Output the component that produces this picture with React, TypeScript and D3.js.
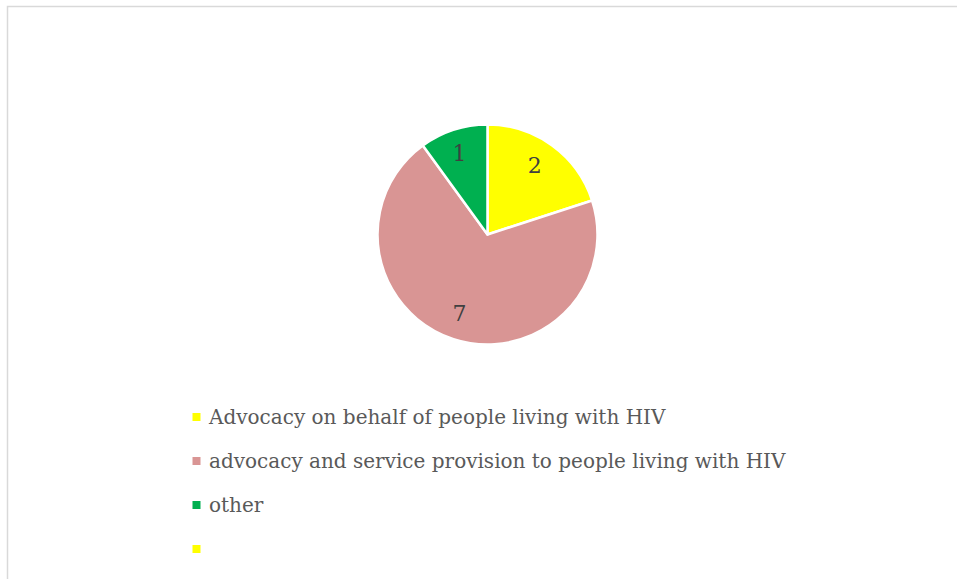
import React from "react";
import * as d3 from "d3";

const categories = [
  "Advocacy on behalf of people living with HIV",
  "advocacy and service provision to people living with HIV",
  "other",
  "",
];
const values = [2, 7, 1, 0];
const colors = ["#FFFF00", "#D99594", "#00B050", "#FFFF00"];

const W = 957;
const H = 579;

export default function App() {
  const cx = 487.5;
  const cy = 234.5;
  const R = 110;
  const pie = d3.pie<number>().sort(null).value((d) => d)(values);
  const arc = d3.arc<d3.PieArcDatum<number>>().innerRadius(0).outerRadius(R);
  const labelArc = d3.arc<d3.PieArcDatum<number>>().innerRadius(84).outerRadius(84);
  const legendY = d3.scalePoint<number>().domain(d3.range(categories.length)).range([417, 549]);

  return (
    <svg
      width={W}
      height={H}
      style={{ position: "absolute", left: 0, top: 0, background: "#fff" }}
    >
      <rect x={7.5} y={6.5} width={W + 10} height={H + 10} fill="#fff" stroke="#d9d9d9" strokeWidth={1.5} />
      <g transform={`translate(${cx},${cy})`}>
        {pie.map((p, i) =>
          p.value > 0 ? (
            <path key={i} d={arc(p) || ""} fill={colors[i]} stroke="#fff" strokeWidth={2.5} strokeLinejoin="round" />
          ) : null
        )}
        {pie.map((p, i) => {
          if (p.value <= 0) return null;
          const [x, y] = labelArc.centroid(p);
          return (
            <text
              key={"l" + i}
              x={x - 2}
              y={y - 1}
              textAnchor="middle"
              dominantBaseline="central"
              fontFamily="'DejaVu Serif', serif"
              fontSize={22}
              fill="#404040"
            >
              {p.value}
            </text>
          );
        })}
      </g>
      {categories.map((c, i) => (
        <g key={"lg" + i} transform={`translate(0,${legendY(i)})`}>
          <rect x={192.5} y={-4} width={8} height={8} fill={colors[i]} />
          <text
            x={209}
            y={0}
            dominantBaseline="central"
            fontFamily="'DejaVu Serif', serif"
            fontSize={20}
            fill="#595959"
          >
            {c}
          </text>
        </g>
      ))}
    </svg>
  );
}
